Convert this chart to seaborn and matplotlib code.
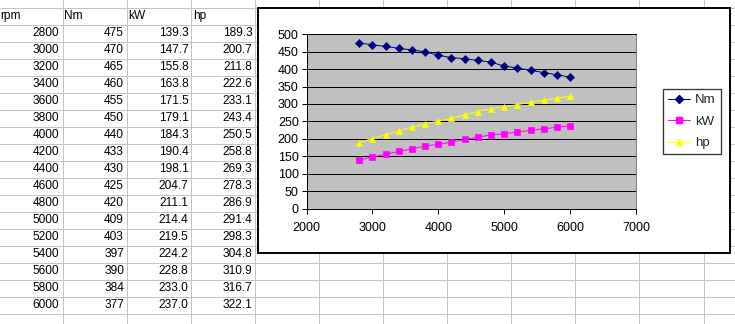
import matplotlib
matplotlib.use("Agg")
import matplotlib.pyplot as plt
import seaborn as sns
import pandas as pd
from matplotlib.lines import Line2D
from matplotlib.patches import Rectangle

# ---- data ----
rpm = [2800, 3000, 3200, 3400, 3600, 3800, 4000, 4200, 4400, 4600, 4800, 5000, 5200, 5400, 5600, 5800, 6000]
nm = [475, 470, 465, 460, 455, 450, 440, 433, 430, 425, 420, 409, 403, 397, 390, 384, 377]
kw = [139.3, 147.7, 155.8, 163.8, 171.5, 179.1, 184.3, 190.4, 198.1, 204.7, 211.1, 214.4, 219.5, 224.2, 228.8, 233.0, 237.0]
hp = [189.3, 200.7, 211.8, 222.6, 233.1, 243.4, 250.5, 258.8, 269.3, 278.3, 286.9, 291.4, 298.3, 304.8, 310.9, 316.7, 322.1]
headers = ["rpm", "Nm", "kW", "hp"]
series_names = ["Nm", "kW", "hp"]
x_ticks = [2000, 3000, 4000, 5000, 6000, 7000]
y_ticks = [0, 50, 100, 150, 200, 250, 300, 350, 400, 450, 500]

W, H = 735, 324
PX = 0.72  # one pixel in points at dpi 100

sns.set_theme(style="white")
plt.rcParams["font.family"] = ["Liberation Sans", "DejaVu Sans"]

fig = plt.figure(figsize=(W / 100, H / 100), dpi=100)
fig.patch.set_facecolor("white")


def fx(x):
    return x / W


def fy(y):
    return 1 - y / H


# ---- spreadsheet grid ----
grid_c = "#c6c3c6"
for k in range(12):
    x = 62.5 + 64.1 * k
    fig.add_artist(Line2D([fx(x), fx(x)], [0, 1], color=grid_c, lw=PX, zorder=0))
for k in range(20):
    y = 7.5 + 17 * k
    fig.add_artist(Line2D([0, 1], [fy(y), fy(y)], color=grid_c, lw=PX, zorder=0))

# ---- table text ----
tfs = 8.6
hdr_x = [0.5, 64, 128.5, 193]
for h, x in zip(headers, hdr_x):
    fig.text(fx(x), fy(16), h, ha="left", va="center", fontsize=tfs, color="black", zorder=1)
cols = [
    [str(v) for v in rpm],
    [str(v) for v in nm],
    ["%.1f" % v for v in kw],
    ["%.1f" % v for v in hp],
]
right_x = [59, 124, 188.5, 252.5]
for col, x in zip(cols, right_x):
    for i, s in enumerate(col):
        fig.text(fx(x), fy(33 + 17 * i), s, ha="right", va="center", fontsize=tfs, color="black", zorder=1)

# ---- chart area ----
fig.add_artist(Rectangle((fx(258), fy(253)), (730 - 258) / W, (253 - 8) / H,
                         facecolor="white", edgecolor="black", lw=1.4, zorder=2))

L, R, T, B = 306.5, 636, 34.3, 208.5
ax = fig.add_axes([fx(L), fy(B), (R - L) / W, (B - T) / H], zorder=3)
ax.set_facecolor("#c0c0c0")

df = pd.DataFrame({"rpm": rpm, "Nm": nm, "kW": kw, "hp": hp})
colors = {"Nm": "#000080", "kW": "#ff00ff", "hp": "#ffff00"}
markers = {"Nm": "D", "kW": "s", "hp": "^"}
msize = {"Nm": 3.8, "kW": 4.0, "hp": 5.0}
for s in series_names:
    sns.lineplot(data=df, x="rpm", y=s, ax=ax, color=colors[s], marker=markers[s],
                 markersize=msize[s], markeredgecolor=colors[s], markeredgewidth=0.5,
                 linewidth=PX, zorder=4)

ax.set_xlim(2000, 7000)
ax.set_ylim(0, 500)
ax.set_xticks(x_ticks)
ax.set_yticks(y_ticks)
ax.set_xticklabels([str(v) for v in x_ticks])
ax.set_yticklabels([str(v) for v in y_ticks])
ax.set_xlabel("")
ax.set_ylabel("")
ax.yaxis.grid(True, color="black", lw=PX)
ax.xaxis.grid(False)
ax.set_axisbelow(True)
for side in ["left", "bottom", "top"]:
    ax.spines[side].set_color("black")
    ax.spines[side].set_linewidth(PX)
ax.spines["right"].set_color("#808080")
ax.spines["right"].set_linewidth(PX)
ax.tick_params(axis="both", direction="out", length=3.6, width=PX, color="black",
               labelsize=9, labelcolor="black")
ax.tick_params(axis="y", pad=2, left=True)
ax.tick_params(axis="x", pad=6, bottom=True)

# ---- legend ----
handles = [Line2D([0], [0], color=colors[s], marker=markers[s], markersize=msize[s],
                  markeredgecolor=colors[s], lw=PX) for s in series_names]
leg = fig.legend(handles, series_names, loc="upper left", bbox_to_anchor=(fx(663), fy(89)),
                 frameon=True, fancybox=False, edgecolor="black", facecolor="white",
                 fontsize=9.5, handlelength=1.7, handletextpad=0.35, labelspacing=0.7,
                 borderpad=0.38, borderaxespad=0)
leg.get_frame().set_linewidth(PX * 1.3)
leg.set_zorder(5)

fig.savefig("out.png", dpi=100, facecolor="white")
